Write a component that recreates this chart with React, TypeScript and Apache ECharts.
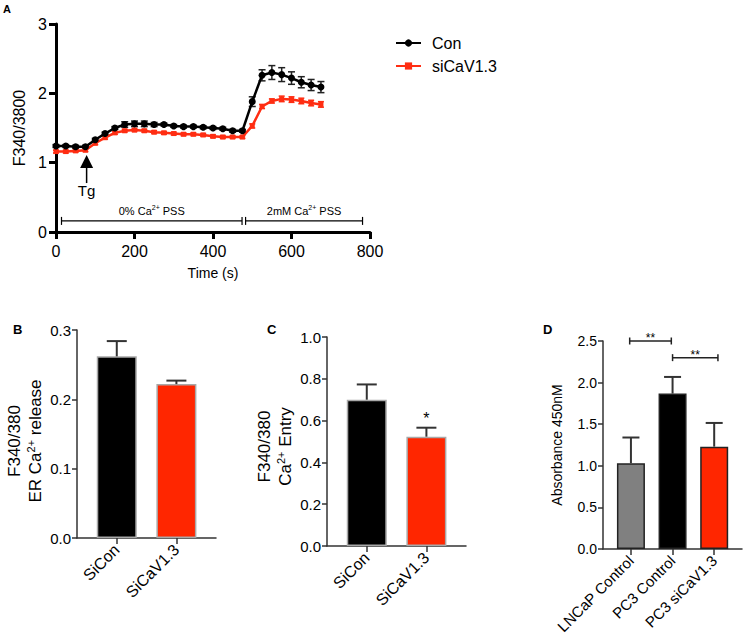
import React, { useEffect, useRef } from "react";
import * as echarts from "echarts";

const FONT = "'Liberation Sans', Arial, Helvetica, sans-serif";
const RED_LINE = "#ff2d12";
const RED_BAR = "#ff2600";

// ---- Panel A: Fura-2 ratio time course ----
const times = [0, 25, 50, 75, 100, 125, 150, 175, 200, 225, 250, 275, 300, 325, 350, 375, 400, 425, 450, 475, 500, 525, 550, 575, 600, 625, 650, 675];
const conMean = [1.24, 1.24, 1.23, 1.23, 1.33, 1.42, 1.5, 1.55, 1.56, 1.56, 1.55, 1.55, 1.53, 1.52, 1.52, 1.51, 1.5, 1.49, 1.46, 1.46, 1.88, 2.26, 2.3, 2.27, 2.22, 2.16, 2.12, 2.09];
const conErr = [0.02, 0.02, 0.02, 0.02, 0.02, 0.02, 0.02, 0.04, 0.04, 0.04, 0.03, 0.02, 0.02, 0.02, 0.02, 0.02, 0.02, 0.02, 0.02, 0.02, 0.07, 0.08, 0.1, 0.1, 0.09, 0.08, 0.08, 0.08];
const siMean = [1.16, 1.16, 1.17, 1.18, 1.28, 1.36, 1.43, 1.46, 1.47, 1.46, 1.44, 1.43, 1.42, 1.41, 1.41, 1.4, 1.38, 1.37, 1.37, 1.37, 1.53, 1.81, 1.89, 1.92, 1.91, 1.89, 1.86, 1.84];
const siErr = [0.02, 0.02, 0.02, 0.02, 0.02, 0.02, 0.02, 0.02, 0.02, 0.02, 0.02, 0.02, 0.02, 0.02, 0.02, 0.02, 0.02, 0.02, 0.02, 0.02, 0.03, 0.03, 0.03, 0.04, 0.04, 0.04, 0.04, 0.04];
const seriesNames = ["Con", "siCaV1.3"];
const phaseLabels = ["0% Ca{sup|2+} PSS", "2mM Ca{sup|2+} PSS"];
const phaseStart = [14, 483];
const phaseEnd = [474, 781];
const phaseLevel = 0.16;
const tgLabel = "Tg";
const tgTime = 78;
const tgTip = 1.11;

// ---- Panel B ----
const bCats = ["SiCon", "SiCaV1.3"];
const bMeans = [0.262, 0.222];
const bErr = [0.022, 0.005];

// ---- Panel C ----
const cCats = ["SiCon", "SiCaV1.3"];
const cMeans = [0.7, 0.523];
const cErr = [0.073, 0.043];
const cStars = [[2, 0.61, "*"]];

// ---- Panel D ----
const dCats = ["LNCaP Control", "PC3 Control", "PC3 siCaV1.3"];
const dMeans = [1.03, 1.868, 1.23];
const dErr = [0.31, 0.2, 0.285];
const dBrackets = [
  [0.97, 1.97, 2.5, "**"],
  [2.0, 3.09, 2.3, "**"],
];

const supRich = (size: number) => ({
  sup: { fontSize: size, verticalAlign: "top", fontFamily: FONT, color: "#000" },
});

function tsErrRender(color: string, capHalf: number) {
  return (params: any, api: any) => {
    const x = api.value(0);
    const m = api.value(1);
    const e = api.value(2);
    const top = api.coord([x, m + e]);
    const bot = api.coord([x, m - e]);
    const st = { stroke: color, lineWidth: 1.5 };
    return {
      type: "group",
      children: [
        { type: "line", shape: { x1: top[0], y1: top[1], x2: bot[0], y2: bot[1] }, style: st },
        { type: "line", shape: { x1: top[0] - capHalf, y1: top[1], x2: top[0] + capHalf, y2: top[1] }, style: st },
        { type: "line", shape: { x1: bot[0] - capHalf, y1: bot[1], x2: bot[0] + capHalf, y2: bot[1] }, style: st },
      ],
    };
  };
}

function barErrRender(capHalf: number) {
  return (params: any, api: any) => {
    const x = api.value(0);
    const m = api.value(1);
    const e = api.value(2);
    const top = api.coord([x, m + e]);
    const base = api.coord([x, m]);
    const st = { stroke: "#333", lineWidth: 2 };
    return {
      type: "group",
      children: [
        { type: "line", shape: { x1: top[0], y1: top[1], x2: base[0], y2: base[1] }, style: st },
        { type: "line", shape: { x1: top[0] - capHalf, y1: top[1], x2: top[0] + capHalf, y2: top[1] }, style: st },
      ],
    };
  };
}

function barAxes(gridIndex: number, cats: string[], min: number, max: number, yMax: number, yInterval: number, labelSize: number, tickSize: number, name: string, nameGap: number, nameSize: number, namePad: number[]) {
  const custom = cats.map((_, i) => i + 1);
  const x = {
    type: "value",
    gridIndex,
    min,
    max,
    splitLine: { show: false },
    axisLine: { show: true, lineStyle: { color: "#333", width: 1.5 } },
    axisTick: { show: true, customValues: custom, length: 6, lineStyle: { color: "#333", width: 1.5 } },
    axisLabel: {
      customValues: custom,
      formatter: (v: number) => cats[Math.round(v) - 1] || "",
      rotate: 45,
      fontSize: labelSize,
      color: "#000",
      fontFamily: FONT,
      margin: 9,
    },
  };
  const y = {
    type: "value",
    gridIndex,
    min: 0,
    max: yMax,
    interval: yInterval,
    splitLine: { show: false },
    axisLine: { show: true, lineStyle: { color: "#333", width: 1.5 } },
    axisTick: { show: true, length: 5, lineStyle: { color: "#333", width: 1.5 } },
    axisLabel: {
      formatter: (v: number) => v.toFixed(1),
      fontSize: tickSize,
      color: "#000",
      fontFamily: FONT,
      margin: 6,
    },
    name,
    nameLocation: "middle",
    nameRotate: 90,
    nameGap,
    nameTextStyle: {
      fontSize: nameSize,
      lineHeight: nameSize + 4,
      color: "#000",
      fontFamily: FONT,
      align: "center",
      padding: namePad,
      rich: supRich(Math.round(nameSize * 0.65)),
    },
  };
  return { x, y };
}

export default function App() {
  const ref = useRef<HTMLDivElement>(null);
  useEffect(() => {
    if (!ref.current) return;
    const chart = echarts.init(ref.current, null, { renderer: "svg" });
    const B = barAxes(1, bCats, 0.333, 2.664, 0.3, 0.1, 16, 15, "F340/380\nER Ca{sup|2+} release", 31, 17, [0, 14, 0, 0]);
    const C = barAxes(2, cCats, 0.333, 2.664, 1.0, 0.2, 16, 15, "F340/380\nCa{sup|2+} Entry", 30, 17, [0, 10, 0, 0]);
    const D = barAxes(3, dCats, 0.329, 3.668, 2.5, 0.5, 15, 14, "Absorbance 450nM", 37, 14, [0, 0, 0, 0]);

    const option: any = {
      animation: false,
      backgroundColor: "#fff",
      textStyle: { fontFamily: FONT },
      legend: {
        data: seriesNames,
        orient: "vertical",
        left: 390,
        top: 30,
        itemWidth: 25,
        itemHeight: 9,
        itemGap: 7,
        textStyle: { fontSize: 16, color: "#000", fontFamily: FONT, padding: [0, 0, 0, 6] },
      },
      grid: [
        { left: 56, top: 24, width: 314, height: 208 },
        { left: 77, top: 330, width: 139, height: 208 },
        { left: 327, top: 337, width: 139, height: 209 },
        { left: 603, top: 341, width: 139, height: 208 },
      ],
      xAxis: [
        {
          type: "value",
          gridIndex: 0,
          min: 0,
          max: 800,
          interval: 200,
          splitLine: { show: false },
          axisLine: { show: true, lineStyle: { color: "#000", width: 3 } },
          axisTick: { show: true, length: 7, lineStyle: { color: "#000", width: 3 } },
          axisLabel: { fontSize: 16, color: "#000", fontFamily: FONT, margin: 11 },
          name: "Time (s)",
          nameLocation: "middle",
          nameGap: 34,
          nameTextStyle: { fontSize: 14, color: "#000", fontFamily: FONT },
        },
        B.x,
        C.x,
        D.x,
      ],
      yAxis: [
        {
          type: "value",
          gridIndex: 0,
          min: 0,
          max: 3,
          interval: 1,
          splitLine: { show: false },
          axisLine: { show: true, lineStyle: { color: "#000", width: 3 } },
          axisTick: { show: true, length: 7, lineStyle: { color: "#000", width: 3 } },
          axisLabel: { fontSize: 16, color: "#000", fontFamily: FONT, margin: 9 },
          name: "F340/3800",
          nameLocation: "middle",
          nameRotate: 90,
          nameGap: 29,
          nameTextStyle: { fontSize: 16, color: "#000", fontFamily: FONT },
        },
        B.y,
        C.y,
        D.y,
      ],
      graphic: [
        { type: "text", left: 3, top: 3, style: { text: "A", font: `bold 11px ${FONT}`, fill: "#000" } },
        { type: "text", left: 13, top: 323, style: { text: "B", font: `bold 13px ${FONT}`, fill: "#000" } },
        { type: "text", left: 267, top: 323, style: { text: "C", font: `bold 13px ${FONT}`, fill: "#000" } },
        { type: "text", left: 543, top: 323, style: { text: "D", font: `bold 13px ${FONT}`, fill: "#000" } },
      ],
      series: [
        // Panel A error bars
        {
          type: "custom",
          xAxisIndex: 0,
          yAxisIndex: 0,
          renderItem: tsErrRender("#222", 3.5),
          data: times.map((t, i) => [t, conMean[i], conErr[i]]),
          encode: { x: 0, y: 1 },
          silent: true,
          z: 1,
        },
        {
          type: "custom",
          xAxisIndex: 0,
          yAxisIndex: 0,
          renderItem: tsErrRender(RED_LINE, 3),
          data: times.map((t, i) => [t, siMean[i], siErr[i]]),
          encode: { x: 0, y: 1 },
          silent: true,
          z: 1,
        },
        {
          name: seriesNames[0],
          type: "line",
          xAxisIndex: 0,
          yAxisIndex: 0,
          data: times.map((t, i) => [t, conMean[i]]),
          symbol: "circle",
          symbolSize: 7,
          showAllSymbol: true,
          lineStyle: { color: "#000", width: 2.5 },
          itemStyle: { color: "#000" },
          z: 3,
        },
        {
          name: seriesNames[1],
          type: "line",
          xAxisIndex: 0,
          yAxisIndex: 0,
          data: times.map((t, i) => [t, siMean[i]]),
          symbol: "rect",
          symbolSize: 5,
          showAllSymbol: true,
          lineStyle: { color: RED_LINE, width: 2.5 },
          itemStyle: { color: RED_LINE },
          z: 2,
        },
        // Phase brackets
        {
          type: "custom",
          xAxisIndex: 0,
          yAxisIndex: 0,
          silent: true,
          data: phaseStart.map((s, i) => [s, phaseEnd[i], i]),
          renderItem: (params: any, api: any) => {
            const a = api.coord([api.value(0), phaseLevel]);
            const b = api.coord([api.value(1), phaseLevel]);
            const idx = api.value(2);
            const st = { stroke: "#000", lineWidth: 1.2 };
            return {
              type: "group",
              children: [
                { type: "line", shape: { x1: a[0], y1: a[1], x2: b[0], y2: b[1] }, style: st },
                { type: "line", shape: { x1: a[0], y1: a[1] - 4, x2: a[0], y2: a[1] + 4 }, style: st },
                { type: "line", shape: { x1: b[0], y1: b[1] - 4, x2: b[0], y2: b[1] + 4 }, style: st },
                {
                  type: "text",
                  x: (a[0] + b[0]) / 2,
                  y: a[1] - 3,
                  style: {
                    text: phaseLabels[idx],
                    fontSize: 11,
                    fontFamily: FONT,
                    fill: "#000",
                    align: "center",
                    verticalAlign: "bottom",
                    lineHeight: 14,
                    rich: { sup: { fontSize: 7, verticalAlign: "top", fontFamily: FONT, fill: "#000" } },
                  },
                },
              ],
            };
          },
        },
        // Tg arrow
        {
          type: "custom",
          xAxisIndex: 0,
          yAxisIndex: 0,
          silent: true,
          data: [[tgTime, tgTip]],
          renderItem: (params: any, api: any) => {
            const p = api.coord([api.value(0), api.value(1)]);
            return {
              type: "group",
              children: [
                { type: "polygon", shape: { points: [[p[0], p[1]], [p[0] - 6.5, p[1] + 13], [p[0] + 6.5, p[1] + 13]] }, style: { fill: "#000" } },
                { type: "line", shape: { x1: p[0], y1: p[1] + 12, x2: p[0], y2: p[1] + 28 }, style: { stroke: "#000", lineWidth: 1.5 } },
                {
                  type: "text",
                  x: p[0],
                  y: p[1] + 28,
                  style: { text: tgLabel, fontSize: 15, fontFamily: FONT, fill: "#000", align: "center", verticalAlign: "top" },
                },
              ],
            };
          },
        },
        // Panel B bars
        {
          type: "bar",
          xAxisIndex: 1,
          yAxisIndex: 1,
          barWidth: 40,
          data: bMeans.map((v, i) => ({
            value: [i + 1, v],
            itemStyle: { color: i === 0 ? "#000" : RED_BAR, borderColor: "#a8a8a8", borderWidth: 1.5 },
          })),
        },
        {
          type: "custom",
          xAxisIndex: 1,
          yAxisIndex: 1,
          silent: true,
          renderItem: barErrRender(10),
          data: bMeans.map((v, i) => [i + 1, v, bErr[i]]),
          encode: { x: 0, y: 1 },
          z: 3,
        },
        // Panel C bars
        {
          type: "bar",
          xAxisIndex: 2,
          yAxisIndex: 2,
          barWidth: 40,
          data: cMeans.map((v, i) => ({
            value: [i + 1, v],
            itemStyle: { color: i === 0 ? "#000" : RED_BAR, borderColor: "#a8a8a8", borderWidth: 1.5 },
          })),
        },
        {
          type: "custom",
          xAxisIndex: 2,
          yAxisIndex: 2,
          silent: true,
          renderItem: barErrRender(10),
          data: cMeans.map((v, i) => [i + 1, v, cErr[i]]),
          encode: { x: 0, y: 1 },
          z: 3,
        },
        {
          type: "custom",
          xAxisIndex: 2,
          yAxisIndex: 2,
          silent: true,
          data: cStars,
          renderItem: (params: any, api: any) => {
            const p = api.coord([api.value(0), api.value(1)]);
            return {
              type: "text",
              x: p[0],
              y: p[1],
              style: { text: String(cStars[params.dataIndex][2]), fontSize: 16, fontFamily: FONT, fill: "#000", align: "center", verticalAlign: "middle" },
            };
          },
        },
        // Panel D bars
        {
          type: "bar",
          xAxisIndex: 3,
          yAxisIndex: 3,
          barWidth: 28,
          data: dMeans.map((v, i) => ({
            value: [i + 1, v],
            itemStyle: { color: ["#808080", "#000", RED_BAR][i], borderColor: "#222", borderWidth: 1.5 },
          })),
        },
        {
          type: "custom",
          xAxisIndex: 3,
          yAxisIndex: 3,
          silent: true,
          renderItem: barErrRender(8.5),
          data: dMeans.map((v, i) => [i + 1, v, dErr[i]]),
          encode: { x: 0, y: 1 },
          z: 3,
        },
        {
          type: "custom",
          xAxisIndex: 3,
          yAxisIndex: 3,
          silent: true,
          data: dBrackets.map((b) => [b[0], b[1], b[2]]),
          renderItem: (params: any, api: any) => {
            const a = api.coord([api.value(0), api.value(2)]);
            const b = api.coord([api.value(1), api.value(2)]);
            const st = { stroke: "#222", lineWidth: 1.5 };
            return {
              type: "group",
              children: [
                { type: "line", shape: { x1: a[0], y1: a[1], x2: b[0], y2: b[1] }, style: st },
                { type: "line", shape: { x1: a[0], y1: a[1] - 3.5, x2: a[0], y2: a[1] + 3.5 }, style: st },
                { type: "line", shape: { x1: b[0], y1: b[1] - 3.5, x2: b[0], y2: b[1] + 3.5 }, style: st },
                {
                  type: "text",
                  x: (a[0] + b[0]) / 2,
                  y: a[1] - 3,
                  style: { text: String(dBrackets[params.dataIndex][3]), fontSize: 12, fontFamily: FONT, fill: "#000", align: "center", verticalAlign: "middle" },
                },
              ],
            };
          },
        },
      ],
    };
    chart.setOption(option);
    return () => chart.dispose();
  }, []);
  return (
    <div
      ref={ref}
      style={{ position: "fixed", left: 0, top: 0, width: 750, height: 639, background: "#fff" }}
    />
  );
}
